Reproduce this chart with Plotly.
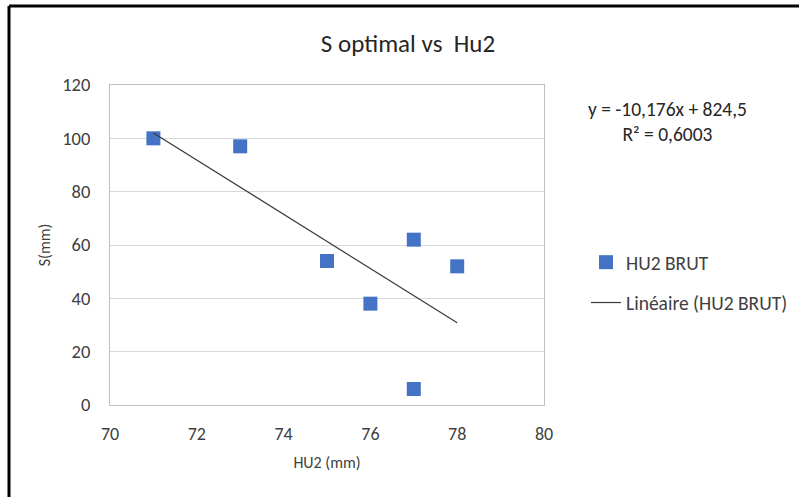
import numpy as np
import plotly.graph_objects as go

hu2 = [71, 73, 75, 76, 77, 77, 78]
s_mm = [100, 97, 54, 38, 62, 6, 52]
x_ticks = [70, 72, 74, 76, 78, 80]
y_ticks = [0, 20, 40, 60, 80, 100, 120]

slope, intercept = np.polyfit(hu2, s_mm, 1)
r2 = np.corrcoef(hu2, s_mm)[0, 1] ** 2
fit_x = [min(hu2), max(hu2)]
fit_y = [slope * v + intercept for v in fit_x]

W, H = 799, 497
L, R, T, B = 110, 255, 85, 92
pw, ph = W - L - R, H - T - B

def px(xp):
    return (xp - L) / pw

def py(yp):
    return 1 - (yp - T) / ph

FONT = "Carlito, Lato, 'Open Sans', sans-serif"
TXT = "#404040"

fig = go.Figure()
fig.add_trace(go.Scatter(
    x=hu2, y=s_mm, mode="markers", name="HU2 BRUT",
    marker=dict(symbol="square", size=14, color="#4472C4"),
    legendgroup="a"))
fig.add_trace(go.Scatter(
    x=fit_x, y=fit_y, mode="lines", name="Linéaire (HU2 BRUT)",
    line=dict(color="#3a3a3a", width=1.2), legendgroup="b"))

fig.update_layout(
    width=W, height=H,
    margin=dict(l=L, r=R, t=T, b=B, autoexpand=False),
    paper_bgcolor="white", plot_bgcolor="white",
    font=dict(family=FONT, size=17, color=TXT),
    title=dict(text="S optimal vs  Hu2", x=(408) / W, xanchor="center",
               y=1 - 43 / H, yanchor="middle",
               font=dict(size=25, color="#262626")),
    xaxis=dict(range=[70, 80], tickvals=x_ticks, showgrid=False,
               zeroline=False, showline=True, mirror=True,
               linecolor="#bfbfbf", linewidth=1, ticks="",
               ticklabelstandoff=12, automargin=False,
               tickfont=dict(size=18, color=TXT),
               title=dict(text="HU2 (mm)", font=dict(size=16, color=TXT),
                          standoff=13)),
    yaxis=dict(range=[0, 120], tickvals=y_ticks, showgrid=True,
               gridcolor="#d9d9d9", gridwidth=1, zeroline=False,
               showline=True, mirror=True, linecolor="#bfbfbf", linewidth=1,
               ticks="", ticklabelstandoff=15, automargin=False,
               tickfont=dict(size=18.5, color=TXT),
               title=dict(text="S(mm)", font=dict(size=16, color=TXT),
                          standoff=7)),
    legend=dict(x=px(586), y=py(243), xanchor="left", yanchor="top",
                traceorder="grouped", tracegroupgap=12,
                font=dict(size=19.5, color=TXT), bgcolor="rgba(0,0,0,0)"),
    showlegend=True,
)

eq = f"y = {slope:.3f}x + {intercept:.1f}".replace(".", ",")
r2txt = f"R² = {r2:.4f}".replace(".", ",")
fig.add_annotation(text=eq + "<br>" + r2txt, xref="paper", yref="paper",
                   x=px(667), y=py(121), xanchor="center", yanchor="middle",
                   showarrow=False, align="center",
                   font=dict(size=19.5, color="#262626"))

# outer black frame (top and left edges visible in the reference)
fig.add_shape(type="line", xref="paper", yref="paper",
              x0=px(9), x1=px(800), y0=py(6), y1=py(6),
              line=dict(color="black", width=3))
fig.add_shape(type="line", xref="paper", yref="paper",
              x0=px(9), x1=px(9), y0=py(6), y1=py(498),
              line=dict(color="black", width=3))

fig.write_html("out.html")
